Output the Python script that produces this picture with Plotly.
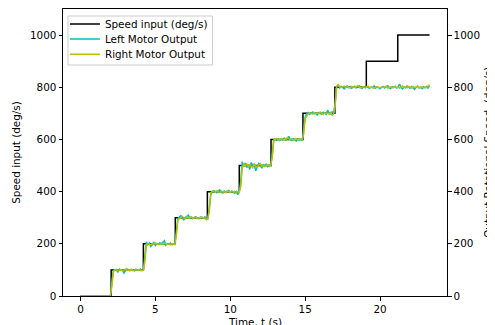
import numpy as np
import plotly.graph_objects as go

# ---- Data ----
# Speed input: step times (s) and levels (deg/s)
input_t = [0.0, 2.05, 4.20, 6.33, 8.47, 10.60, 12.72, 14.85, 16.98, 19.08, 21.18, 23.30]
input_v = [0, 100, 200, 300, 400, 500, 600, 700, 800, 900, 1000, 1000]

# Motor outputs sampled every 0.1 s, listed segment by segment
left_seg0 = [0] * 21
right_seg0 = [0] * 21
left_seg1 = [55, 97, 101, 99, 92, 103, 98, 100, 88, 99, 104, 101, 97, 102, 99, 96, 101, 100, 98, 103, 97, 100]
right_seg1 = [40, 94, 100, 102, 97, 99, 101, 96, 100, 103, 98, 100, 99, 101, 97, 100, 102, 99, 101, 98, 100, 99]
left_seg2 = [150, 208, 196, 203, 190, 198, 205, 193, 201, 197, 204, 199, 208, 212, 195, 201, 198, 203, 196, 200, 199]
right_seg2 = [130, 197, 201, 199, 196, 202, 198, 203, 199, 200, 197, 202, 199, 201, 203, 198, 200, 196, 201, 199, 197]
left_seg3 = [245, 296, 303, 308, 299, 292, 301, 306, 310, 298, 303, 297, 301, 304, 299, 296, 302, 300, 298, 303, 301, 297]
right_seg3 = [230, 290, 297, 302, 305, 300, 296, 303, 299, 301, 304, 298, 300, 302, 297, 301, 299, 303, 300, 298, 292, 296]
left_seg4 = [340, 390, 398, 404, 401, 396, 402, 407, 399, 395, 403, 398, 401, 405, 397, 402, 399, 394, 400, 388, 402]
right_seg4 = [325, 396, 403, 401, 398, 404, 400, 397, 402, 399, 401, 396, 403, 400, 398, 402, 399, 401, 397, 400, 398]
left_seg5 = [440, 515, 497, 510, 492, 503, 485, 512, 498, 506, 480, 495, 508, 501, 490, 503, 498, 505, 496, 501, 499]
right_seg5 = [420, 490, 505, 499, 508, 496, 503, 497, 492, 505, 500, 494, 502, 507, 498, 501, 496, 500, 503, 497, 501]
left_seg6 = [545, 598, 602, 597, 601, 596, 603, 599, 605, 598, 601, 612, 600, 596, 603, 599, 594, 602, 598, 601, 596]
right_seg6 = [530, 595, 601, 604, 598, 600, 603, 597, 601, 599, 607, 602, 598, 601, 600, 597, 603, 599, 601, 598, 600]
left_seg7 = [640, 685, 699, 703, 696, 702, 705, 698, 701, 694, 703, 699, 697, 704, 700, 696, 712, 702, 698, 706, 701]
right_seg7 = [620, 680, 692, 698, 702, 700, 697, 703, 699, 701, 698, 705, 700, 696, 702, 699, 701, 697, 703, 693, 699]
left_seg8 = [740, 802, 808, 797, 803, 799, 794, 801, 805, 798,
             802, 796, 800, 804, 797, 801, 806, 799, 795, 802,
             798, 803, 800, 796, 801, 799, 805, 797, 802, 798,
             794, 800, 803, 797, 801, 806, 798, 795, 802, 799,
             804, 797, 801, 812, 799, 794, 802, 798, 805, 800,
             796, 803, 799, 792, 801, 804, 798, 800, 795, 802,
             798, 803, 797, 806]
right_seg8 = [730, 805, 810, 803, 799, 801, 804, 798, 802, 800,
              797, 803, 801, 799, 802, 806, 800, 797, 801, 803,
              799, 800, 804, 798, 801, 799, 796, 801, 803, 800,
              798, 802, 799, 801, 804, 797, 800, 802, 798, 801,
              803, 799, 800, 797, 802, 805, 799, 801, 798, 803,
              800, 797, 802, 799, 801, 804, 798, 800, 802, 797,
              801, 799, 806, 810]

left_out = (left_seg0 + left_seg1 + left_seg2 + left_seg3 + left_seg4 +
            left_seg5 + left_seg6 + left_seg7 + left_seg8)
right_out = (right_seg0 + right_seg1 + right_seg2 + right_seg3 + right_seg4 +
             right_seg5 + right_seg6 + right_seg7 + right_seg8)
sample_dt = 0.1
t_left = np.round(np.arange(len(left_out)) * sample_dt, 2)
t_right = np.round(np.arange(len(right_out)) * sample_dt, 2)

tick_vals = [0, 200, 400, 600, 800, 1000]
x_ticks = [0, 5, 10, 15, 20]
series_names = ["Speed input (deg/s)", "Left Motor Output", "Right Motor Output"]
x_title = "Time, t (s)"
y_title = "Speed input (deg/s)"
y2_title = "Output Rotational Speed, (deg/s)"

FONT = "DejaVu Sans"
FS = 10.4

fig = go.Figure()
fig.add_trace(go.Scatter(x=input_t, y=input_v, mode="lines", line_shape="hv",
                         line=dict(color="black", width=1.5),
                         name=series_names[0], yaxis="y", legend="legend"))
fig.add_trace(go.Scatter(x=t_left, y=left_out, mode="lines",
                         line=dict(color="#00bfbf", width=1.5),
                         name=series_names[1], yaxis="y2", legend="legend2"))
fig.add_trace(go.Scatter(x=t_right, y=right_out, mode="lines",
                         line=dict(color="#bfbf00", width=1.5),
                         name=series_names[2], yaxis="y2", legend="legend3"))

axis_common = dict(showgrid=False, zeroline=False, showline=True, linecolor="black",
                   linewidth=1, ticks="outside", ticklen=3.5, tickwidth=1,
                   tickcolor="black", automargin=False,
                   tickfont=dict(family=FONT, size=FS, color="black"))

leg_common = dict(xanchor="left", yanchor="middle", x=0.005,
                  bgcolor="rgba(0,0,0,0)", borderwidth=0,
                  font=dict(family=FONT, size=FS, color="black"), itemwidth=30)

# page body has an 8px default margin, so the figure is 8px smaller than the window
fig.update_layout(
    width=487, height=317,
    margin=dict(l=55, r=48, t=1, b=29, autoexpand=False),
    paper_bgcolor="white", plot_bgcolor="white",
    font=dict(family=FONT, size=FS, color="black"),
    xaxis=dict(range=[-1.165, 24.465], tickvals=x_ticks, mirror=True, **axis_common),
    yaxis=dict(range=[0, 1100], tickvals=tick_vals,
               title=dict(text=y_title, standoff=7, font=dict(family=FONT, size=FS)),
               **axis_common),
    yaxis2=dict(range=[0, 1100], tickvals=tick_vals, overlaying="y", side="right",
                **axis_common),
    legend=dict(y=0.9477, **leg_common),
    legend2=dict(y=0.8955, **leg_common),
    legend3=dict(y=0.8422, **leg_common),
    shapes=[dict(type="rect", xref="paper", yref="paper",
                 x0=0.013, x1=0.3893, y0=0.8049, y1=0.9756,
                 fillcolor="rgba(255,255,255,0.8)",
                 line=dict(color="#cccccc", width=1), layer="above")],
    annotations=[
        dict(text=x_title, xref="paper", yref="paper", x=0.5, y=-0.0889,
             xanchor="center", yanchor="middle", showarrow=False,
             font=dict(family=FONT, size=FS, color="black")),
        dict(text=y2_title, xref="paper", yref="paper", x=1.105, y=0.5,
             xanchor="center", yanchor="middle", textangle=-90, showarrow=False,
             font=dict(family=FONT, size=FS, color="black")),
    ],
    showlegend=True,
)

fig.write_html("out.html")
